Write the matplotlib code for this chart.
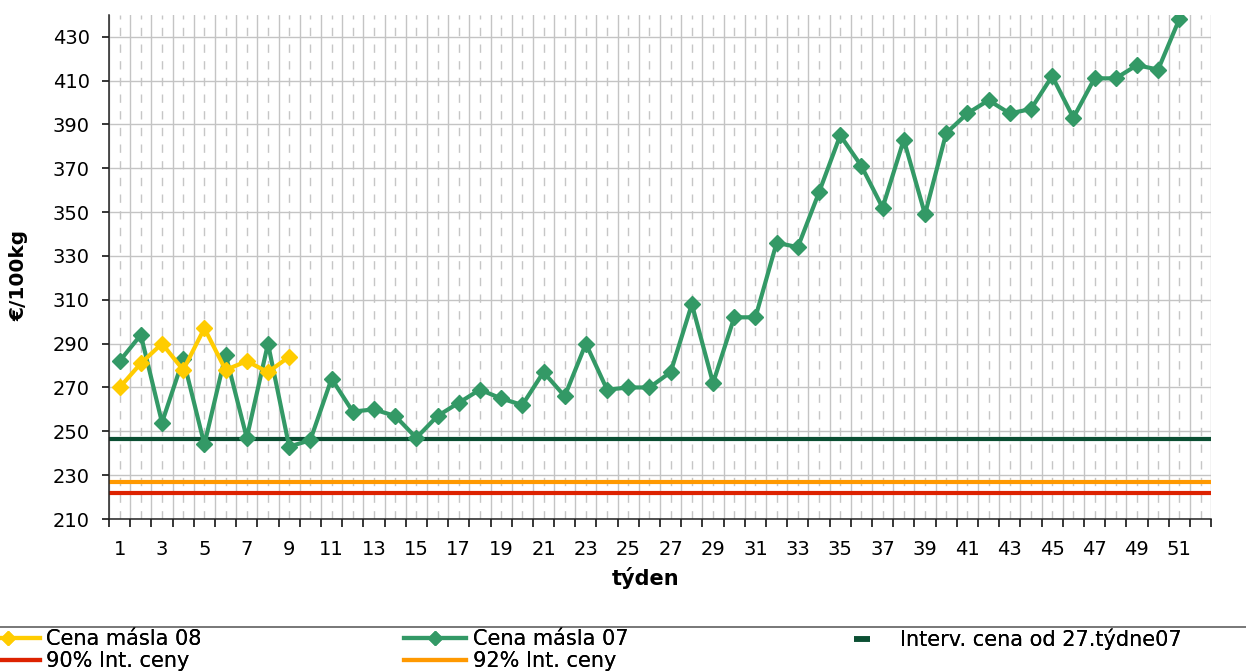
import matplotlib
matplotlib.use('Agg')
import numpy as np
import matplotlib.pyplot as plt
import matplotlib.ticker as ticker
from matplotlib.lines import Line2D

# weekly butter prices, EUR/100kg
weeks_08 = list(range(1, 10))
price_08 = [270, 281, 290, 278, 297, 278, 282, 277, 284]

weeks_07 = list(range(1, 52))
price_07 = [282, 294, 254, 283, 244, 285, 247, 290, 243, 246,
            274, 259, 260, 257, 247, 257, 263, 269, 265, 262,
            277, 266, 290, 269, 270, 270, 277, 308, 272, 302,
            302, 336, 334, 359, 385, 371, 352, 383, 349, 386,
            395, 401, 395, 397, 412, 393, 411, 411, 417, 415,
            438]

interv_price = 246.39
int_90 = 221.75
int_92 = 226.68

n_weeks = 52
y_ticks = list(range(210, 431, 20))

plt.rcParams['font.family'] = ['DejaVu Sans']

W, H = 1246, 671
fig = plt.figure(figsize=(W / 100, H / 100), dpi=100)
ax = fig.add_axes([0.0875, 0.2265, 0.8845, 0.7515])

c08 = '#FFCC00'
c07 = '#339966'
c_int = '#0B4F33'
c90 = '#DD2200'
c92 = '#FF9900'

ax.axhline(int_90, color=c90, lw=3, zorder=2)
ax.axhline(int_92, color=c92, lw=3, zorder=2)
ax.axhline(interv_price, color=c_int, lw=3, zorder=2)

ax.plot(weeks_07, price_07, color=c07, lw=3, marker='D', markersize=8.5, zorder=3)
ax.plot(weeks_08, price_08, color=c08, lw=3, marker='D', markersize=8.5, zorder=4)

ax.set_xlim(0.5, n_weeks + 0.5)
ax.set_ylim(210, 440)

# x axis: labels on odd weeks, tick marks between categories
ax.xaxis.set_major_locator(ticker.FixedLocator(range(1, n_weeks + 1)))
ax.xaxis.set_major_formatter(ticker.FixedFormatter(
    [str(w) if w % 2 == 1 else '' for w in range(1, n_weeks + 1)]))
ax.xaxis.set_minor_locator(ticker.FixedLocator(np.arange(0.5, n_weeks + 1, 1)))
ax.tick_params(axis='x', which='major', length=0, pad=15, labelsize=14)
ax.tick_params(axis='x', which='minor', length=6, width=1.1, direction='out')

ax.set_yticks(y_ticks)
ax.tick_params(axis='y', which='major', length=5, width=1.1, pad=9, labelsize=14)

ax.grid(axis='x', which='major', color='#C6C6C6', lw=1.0, ls=(0, (6, 6)))
ax.grid(axis='x', which='minor', color='#C4C4C4', lw=1.0)
ax.grid(axis='y', which='major', color='#C4C4C4', lw=1.0)
ax.set_axisbelow(True)

for s in ['top', 'right']:
    ax.spines[s].set_visible(False)
for s in ['left', 'bottom']:
    ax.spines[s].set_color('#222222')
    ax.spines[s].set_linewidth(1.1)

ax.set_xlabel('týden', fontsize=15, fontweight='bold')
ax.xaxis.set_label_coords(0.487, -0.095)
ax.set_ylabel('€/100kg', fontsize=14.5, fontweight='bold')
ax.yaxis.set_label_coords(-0.0735, 0.484)

# legend: three columns placed by hand, top border line only
h08 = Line2D([0], [0], color=c08, lw=3, marker='D', markersize=7, label='Cena másla 08')
h90 = Line2D([0], [0], color=c90, lw=3, marker='_', markersize=10, label='90% Int. ceny')
h07 = Line2D([0], [0], color=c07, lw=3, marker='D', markersize=7, label='Cena másla 07')
h92 = Line2D([0], [0], color=c92, lw=3, marker='_', markersize=10, label='92% Int. ceny')
h_int = Line2D([0], [0], color=c_int, lw=0, marker='_', markersize=11,
               markeredgewidth=4, label='Interv. cena od 27.týdne07')

columns = [([h08, h90], -23), ([h07, h92], 404), ([h_int], 831)]
for hs, x_px in columns:
    fig.add_artist(fig.legend(handles=hs, loc='upper left',
                              bbox_to_anchor=(x_px / W, 1 - 629 / H),
                              fontsize=15, frameon=False,
                              handlelength=3.0, handletextpad=0.3,
                              borderpad=0.0, labelspacing=0.1,
                              borderaxespad=0.0))

fig.add_artist(Line2D([0, 1], [1 - 626.5 / H, 1 - 626.5 / H],
                      transform=fig.transFigure, color='#606060', lw=1.2))

fig.savefig('out.png', dpi=100)
